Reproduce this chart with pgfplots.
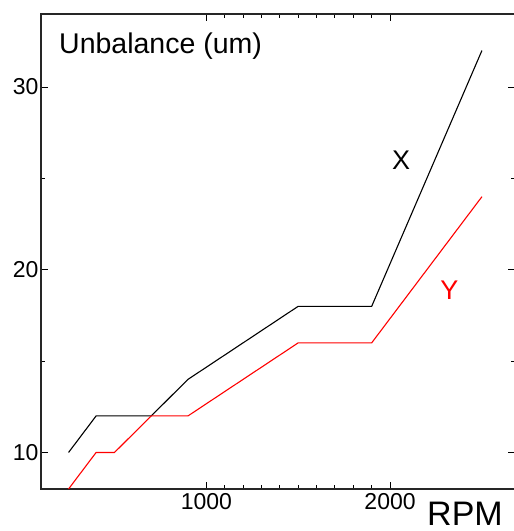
\documentclass[border=0pt]{standalone}
\usepackage{pgfplots}
\pgfplotsset{compat=1.18}
\usepackage{fontspec}
\setmainfont{Liberation Sans}
\begin{document}
\begin{tikzpicture}[x=1pt,y=1pt]
\begin{axis}[
  at={(0,0)}, anchor=south west,
  scale only axis, width=474pt, height=475pt,
  xmin=100, xmax=2680, ymin=8, ymax=34,
  clip mode=individual,
  xtick={1000,2000}, ytick={10,20,30},
  minor x tick num=9, minor y tick num=1,
  tick align=inside, major tick length=7pt, minor tick length=4pt,
  axis line style={line width=1.3pt, black!85},
  every tick/.style={line width=1pt, black},
  ticklabel style={font=\fontsize{23}{23}\selectfont},
  /pgf/number format/assume math mode=true,
  /pgf/number format/1000 sep={},
  xticklabel style={yshift=-1pt},
  yticklabel style={xshift=1pt},
]
\addplot[black, line width=1.1pt] coordinates {
  (250,10) (400,12) (700,12) (900,14) (1500,18) (1900,18) (2500,32)
};
\addplot[red, line width=1.1pt] coordinates {
  (250,8) (400,10) (500,10) (700,12) (900,12) (1500,16) (1900,16) (2500,24)
};
\node[anchor=base west, font=\fontsize{28.5}{28.5}\selectfont, inner sep=0pt]
  at (axis description cs:0,1) [xshift=18pt, yshift=-40pt] {Unbalance (um)};
\node[font=\fontsize{27}{27}\selectfont, inner sep=0pt] at (axis cs:2060,26) {X};
\node[font=\fontsize{27}{27}\selectfont, inner sep=0pt, text=red] at (axis cs:2323,18.9) {Y};
\end{axis}
\node[anchor=base, font=\fontsize{34}{34}\selectfont, inner sep=0pt] at (424,-36) {RPM};
\pgfresetboundingbox
\path (-41,-42) rectangle (473,489);
\end{tikzpicture}
\end{document}
